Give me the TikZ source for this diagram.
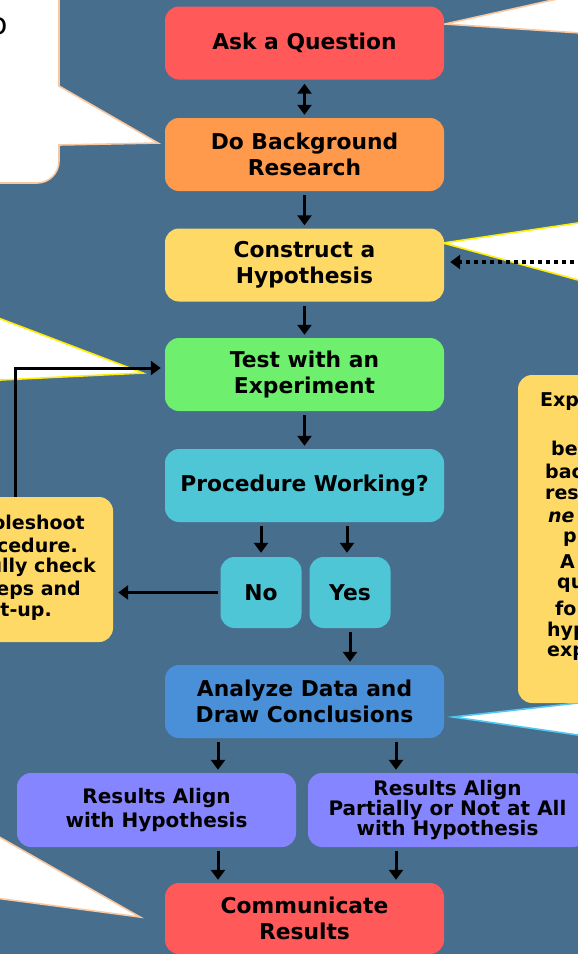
\documentclass[tikz,border=0pt]{standalone}
\usepackage{fontspec}
\setmainfont{DejaVu Sans}
\usetikzlibrary{arrows.meta}
\definecolor{bg}{RGB}{72,110,142}
\definecolor{cred}{RGB}{255,89,89}
\definecolor{corange}{RGB}{255,154,77}
\definecolor{cyellow}{RGB}{255,217,102}
\definecolor{cgreen}{RGB}{110,240,110}
\definecolor{ccyan}{RGB}{78,198,214}
\definecolor{cblue}{RGB}{74,144,217}
\definecolor{clav}{RGB}{133,133,255}
\definecolor{peach}{RGB}{250,200,160}
\definecolor{lemon}{RGB}{255,238,0}
\definecolor{sky}{RGB}{80,200,240}
\tikzset{
  box/.style={rectangle, rounded corners=14pt, minimum width=279pt, minimum height=73pt,
    inner sep=0pt, align=center, text=black, font=\fontsize{21.8}{25.5}\selectfont\bfseries},
  smallbox/.style={box, minimum width=81pt, minimum height=71pt},
  resbox/.style={box, minimum height=74pt, font=\fontsize{20}{24}\selectfont\bfseries},
  arr/.style={line width=3pt, -{Triangle[length=10pt,width=14pt]}},
  darr/.style={line width=3pt, {Triangle[length=10pt,width=14pt]}-{Triangle[length=10pt,width=14pt]}},
  callout/.style={fill=white, line width=1.6pt, line join=miter},
  frag/.style={inner sep=0pt, text=black, font=\fontsize{19}{22}\selectfont\bfseries},
}
\begin{document}
\begin{tikzpicture}[x=1pt,y=-1pt]
\useasboundingbox (0,0) rectangle (578,954);
\clip (0,0) rectangle (578,954);
\fill[bg] (0,0) rectangle (578,954);

% callouts
\draw[callout, draw=peach] (-20,-20) -- (59,-20) -- (59,86) -- (158,143) -- (59,145)
  [rounded corners=22pt] -- (59,183) [sharp corners] -- (-20,183) -- cycle;
\node[anchor=east, inner sep=0pt, font=\fontsize{30}{30}\selectfont] (tlo) at (8,26) {o};
\draw[callout, draw=peach] (445,24) -- (575,-5) -- (600,-5) -- (600,34.3) -- cycle;
\draw[callout, draw=lemon] (443,243) -- (600,219.7) -- (600,286) -- cycle;
\draw[callout, draw=lemon] (143,373) -- (-20,311) -- (-20,381) -- cycle;
\draw[callout, draw=sky] (453,717) -- (600,700.5) -- (600,738.2) -- cycle;
\draw[callout, draw=peach] (140,917) -- (-20,826) -- (-20,896) -- cycle;

% main boxes
\node[box, fill=cred] (ask) at (304.5,43) {Ask a Question};
\node[box, fill=corange] (bg) at (304.5,154.5) {Do Background\\Research};
\node[box, fill=cyellow] (hyp) at (304.5,265) {Construct a\\Hypothesis};
\node[box, fill=cgreen] (test) at (304.5,374.5) {Test with an\\Experiment};
\node[box, fill=ccyan] (proc) at (304.5,485.5) {Procedure Working?};
\node[smallbox, fill=ccyan] (no) at (261,592.5) {No};
\node[smallbox, fill=ccyan] (yes) at (350,592.5) {Yes};
\node[box, fill=cblue] (an) at (304.5,701.5) {Analyze Data and\\Draw Conclusions};
\node[resbox, fill=clav] (r1) at (156.5,810) {Results Align\\with Hypothesis};
\node[resbox, fill=clav, font=\fontsize{20}{20}\selectfont\bfseries] (r2) at (447.5,810) {Results Align\\Partially or Not at All\\with Hypothesis};
\node[box, fill=cred, minimum height=71pt] (com) at (304.5,918.5) {Communicate\\Results};

% side boxes
\node[rectangle, rounded corners=14pt, fill=cyellow, minimum width=180pt, minimum height=145pt, inner sep=0pt] (tb) at (23,569.5) {};
\node[frag, anchor=east] (t1) at (85,522) {oleshoot};
\node[frag, anchor=east] (t2) at (78,545) {cedure.};
\node[frag, anchor=east] (t3) at (96,567) {ully check};
\node[frag, anchor=east] (t4) at (81,590) {eps and};
\node[frag, anchor=east] (t5) at (52,612) {t-up.};

\node[rectangle, rounded corners=14pt, fill=cyellow, minimum width=200pt, minimum height=328pt, inner sep=0pt] (rb) at (618,539) {};
\node[frag, anchor=west] (e1) at (540,402) {Exp};
\node[frag, anchor=west] (e2) at (551,448) {be};
\node[frag, anchor=west] (e3) at (545,471) {bac};
\node[frag, anchor=west] (e4) at (545,494) {res};
\node[frag, anchor=west, font=\fontsize{19}{22}\selectfont\bfseries\itshape] (e5) at (548,517) {ne};
\node[frag, anchor=west] (e6) at (563,539) {p};
\node[frag, anchor=west] (e7) at (560,562) {A};
\node[frag, anchor=west] (e8) at (557,585) {qu};
\node[frag, anchor=west] (e9) at (555,608) {fo};
\node[frag, anchor=west] (e10) at (547,631) {hyp};
\node[frag, anchor=west] (e11) at (547,653) {exp};

% connectors
\draw[darr, shorten <=4pt, shorten >=3pt] (ask.south) -- (bg.north);
\draw[arr, shorten <=4pt, shorten >=3pt] (bg.south) -- (hyp.north);
\draw[arr, shorten <=4pt, shorten >=3pt] (hyp.south) -- (test.north);
\draw[arr, shorten <=4pt, shorten >=3pt] (test.south) -- (proc.north);
\draw[arr, shorten <=4pt, shorten >=4pt] (no.north |- proc.south) -- (no.north);
\draw[arr, shorten <=4pt, shorten >=4pt] ([xshift=-3pt]yes.north |- proc.south) -- ([xshift=-3pt]yes.north);
\draw[arr, shorten <=4pt, shorten >=3pt] (yes.south) -- (yes.south |- an.north);
\draw[arr, shorten <=4pt, shorten >=3pt] ([xshift=-86.5pt]an.south) -- ([xshift=-86.5pt]an.south |- r1.north);
\draw[arr, shorten <=4pt, shorten >=3pt] ([xshift=91.5pt]an.south) -- ([xshift=91.5pt]an.south |- r2.north);
\draw[arr, shorten <=4pt, shorten >=3pt] ([xshift=-86.5pt]com.north |- r1.south) -- ([xshift=-86.5pt]com.north);
\draw[arr, shorten <=4pt, shorten >=3pt] ([xshift=91.5pt]com.north |- r2.south) -- ([xshift=91.5pt]com.north);
\draw[arr, shorten <=2pt, shorten >=5pt] (no.west) -- (no.west -| tb.east);
\coordinate (tbtop) at (15,497);
\draw[arr, shorten >=4pt] (tbtop) |- ([yshift=6.5pt]test.west);
\coordinate (dots) at (590,262);
\draw[line width=4pt, dash pattern=on 4pt off 4pt, -{Triangle[length=10pt,width=14pt]}, shorten >=6pt] (dots) -- (dots -| hyp.east);
\end{tikzpicture}
\end{document}
